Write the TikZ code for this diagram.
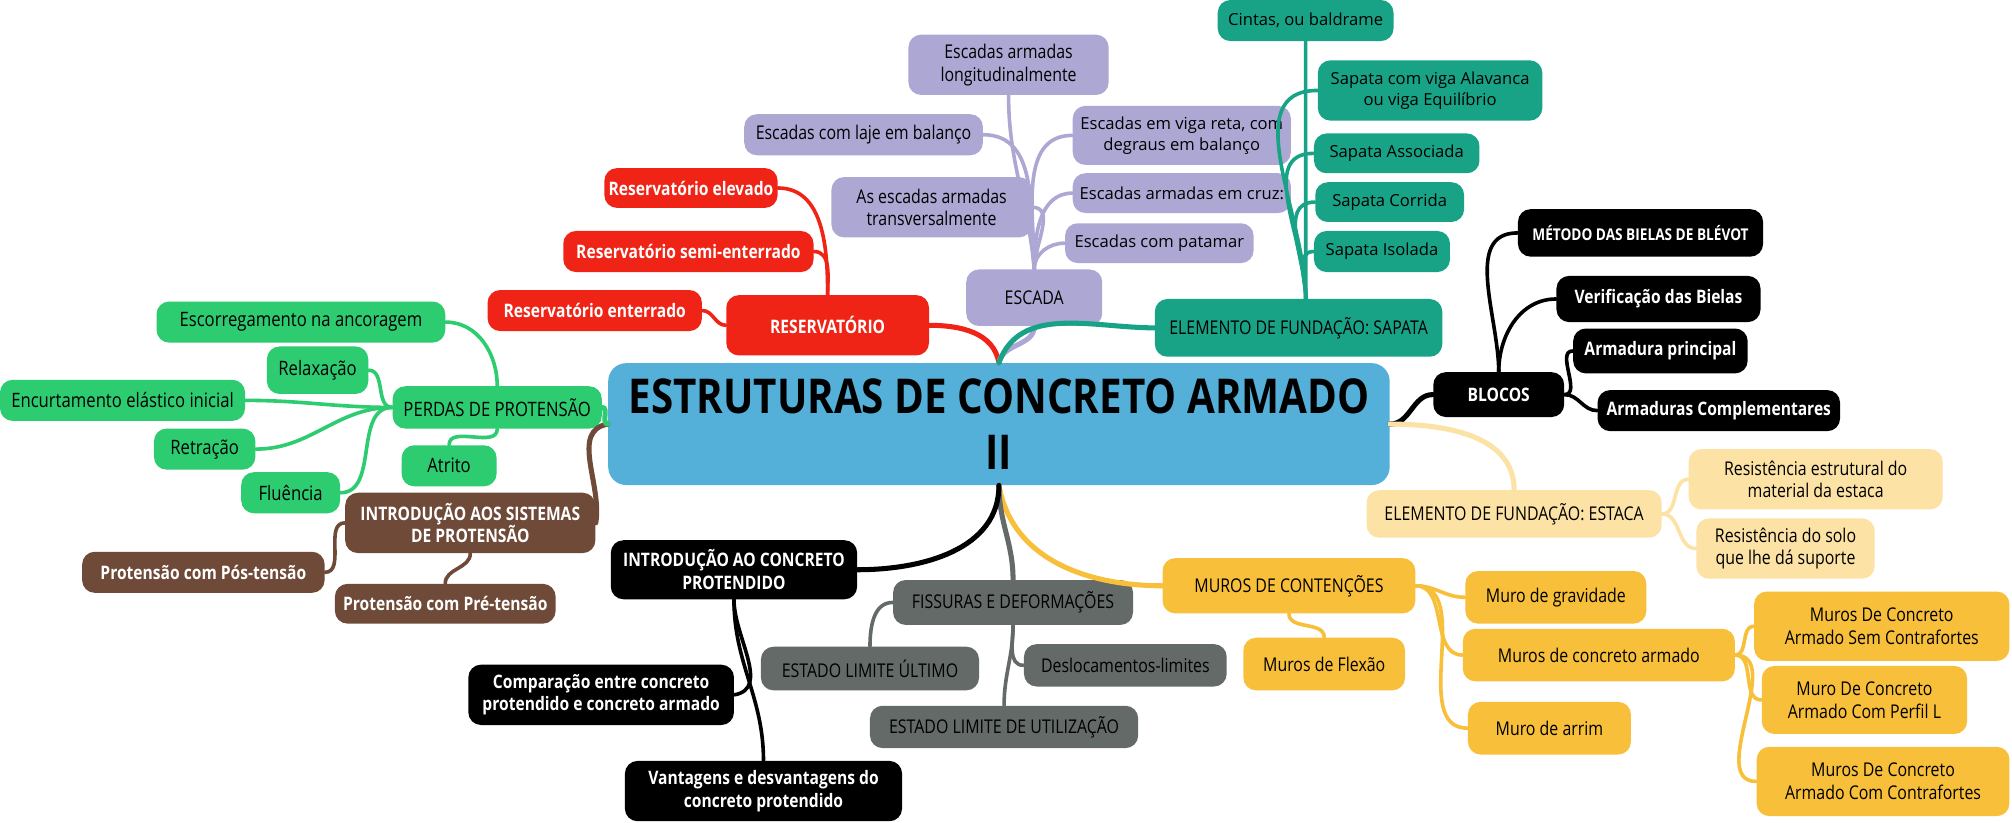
\documentclass[tikz,border=0pt]{standalone}
\usepackage{fontspec}
\setmainfont{Open Sans}
\newfontfamily\condf{Open Sans}[FakeStretch=0.84]
\usetikzlibrary{arrows.meta}

\definecolor{topicblue}{RGB}{84,176,216}
\definecolor{resred}{RGB}{240,36,22}
\definecolor{escpurple}{RGB}{173,167,212}
\definecolor{sapteal}{RGB}{24,163,135}
\definecolor{estyellow}{RGB}{252,226,164}
\definecolor{muryellow}{RGB}{248,191,58}
\definecolor{fisgray}{RGB}{99,106,104}
\definecolor{probrown}{RGB}{111,74,56}
\definecolor{pergreen}{RGB}{46,204,113}

\begin{document}
\begin{tikzpicture}[x=0.025cm,y=-0.025cm,
    box/.style={rounded corners=7pt,inner sep=0pt,align=center,font=\condf\fontsize{10.5}{12.5}\selectfont},
    sz/.style 2 args={minimum width=#1*0.025cm,minimum height=#2*0.025cm},
    lite/.style={box,fill=#1,text=black},
    dark/.style={box,fill=#1,text=white,font=\condf\bfseries\fontsize{10.3}{12.5}\selectfont},
    wide/.style={font=\fontsize{9.2}{11.5}\selectfont},
    big/.style={font=\condf\fontsize{11}{13}\selectfont},
    branch/.style={draw=#1,line width=2.8pt,line cap=round},
    twig/.style={draw=#1,line width=2pt,line cap=round}]

  \fill[white] (0,0) rectangle (1568,641);

  % centre
  \node[box,fill=topicblue,sz={609}{95},rounded corners=10pt,
        font=\condf\bfseries\fontsize{26.6}{31}\selectfont] (root) at (778.5,330.5)
        {ESTRUTURAS DE CONCRETO ARMADO\\II};

  % reservatorio
  \node[dark=resred,sz={158}{47}] (reserv) at (645,253.5) {RESERVATÓRIO};
  \node[dark=resred,sz={167}{32}] (enterr) at (463.5,242) {Reservatório enterrado};
  \node[dark=resred,sz={195}{32}] (semient) at (536.5,196) {Reservatório semi-enterrado};
  \node[dark=resred,sz={135}{31}] (elevado) at (538.5,146.5) {Reservatório elevado};

  % escada
  \node[lite=escpurple,sz={106}{44}] (escada) at (806,232) {ESCADA};
  \node[lite=escpurple,wide,sz={147}{31}] (patamar) at (903.5,189.5) {Escadas com patamar};
  \node[lite=escpurple,wide,sz={170}{31}] (cruz) at (921,150.5) {Escadas armadas em cruz:};
  \node[lite=escpurple,wide,sz={170}{46}] (vigareta) at (921,105.5) {Escadas em viga reta, com\\degraus em balanço};
  \node[lite=escpurple,sz={156}{47}] (transv) at (726,161.5) {As escadas armadas\\transversalmente};
  \node[lite=escpurple,sz={186}{32}] (lajebal) at (673,105) {Escadas com laje em balanço};
  \node[lite=escpurple,sz={156}{47}] (longit) at (786,50.5) {Escadas armadas\\longitudinalmente};

  % sapata
  \node[lite=sapteal,sz={224}{45}] (sapata) at (1012,255.5) {ELEMENTO DE FUNDAÇÃO: SAPATA};
  \node[lite=sapteal,wide,sz={106}{32}] (isolada) at (1077,196) {Sapata Isolada};
  \node[lite=sapteal,wide,sz={116}{31}] (corrida) at (1083,157.5) {Sapata Corrida};
  \node[lite=sapteal,wide,sz={129}{31}] (associada) at (1088.5,119.5) {Sapata Associada};
  \node[lite=sapteal,wide,sz={175}{47}] (alavanca) at (1114.5,70.5) {Sapata com viga Alavanca\\ou viga Equilíbrio};
  \node[lite=sapteal,wide,sz={137}{32}] (cintas) at (1017.5,16) {Cintas, ou baldrame};

  % blocos
  \node[dark=black,sz={102}{35}] (blocos) at (1168,307.5) {BLOCOS};
  \node[dark=black,sz={191}{37},font=\condf\bfseries\fontsize{9}{11}\selectfont] (blevot) at (1278.5,181.5) {MÉTODO DAS BIELAS DE BLÉVOT};
  \node[dark=black,sz={159}{36}] (bielas) at (1292.5,233) {Verificação das Bielas};
  \node[dark=black,sz={136}{35}] (armprinc) at (1294,273.5) {Armadura principal};
  \node[dark=black,sz={189}{32}] (armcompl) at (1339.5,320) {Armaduras Complementares};

  % estaca
  \node[lite=estyellow,sz={230}{37}] (estaca) at (1180,400.5) {ELEMENTO DE FUNDAÇÃO: ESTACA};
  \node[lite=estyellow,sz={198}{47}] (resestr) at (1415,373.5) {Resistência estrutural do\\material da estaca};
  \node[lite=estyellow,sz={139}{47}] (ressolo) at (1391.5,427.5) {Resistência do solo\\que lhe dá suporte};

  % muros
  \node[lite=muryellow,sz={197}{43}] (muros) at (1004.5,456.5) {MUROS DE CONTENÇÕES};
  \node[lite=muryellow,sz={126}{41}] (flexao) at (1032,517.5) {Muros de Flexão};
  \node[lite=muryellow,sz={141}{41}] (gravid) at (1212.5,465.5) {Muro de gravidade};
  \node[lite=muryellow,sz={212}{41}] (concarm) at (1246,510.5) {Muros de concreto armado};
  \node[lite=muryellow,sz={127}{41}] (arrimo) at (1207.5,567.5) {Muro de arrim};
  \node[lite=muryellow,sz={199}{54}] (semcontra) at (1466.5,488) {Muros De Concreto\\Armado Sem Contrafortes};
  \node[lite=muryellow,sz={160}{53}] (perfill) at (1453,545.5) {Muro De Concreto\\Armado Com Perfil L};
  \node[lite=muryellow,sz={197}{54}] (comcontra) at (1467.5,609) {Muros De Concreto\\Armado Com Contrafortes};

  % fissuras
  \node[lite=fisgray,sz={187}{35}] (fissuras) at (789.5,469.5) {FISSURAS E DEFORMAÇÕES};
  \node[lite=fisgray,sz={170}{34}] (elu) at (678,521) {ESTADO LIMITE ÚLTIMO};
  \node[lite=fisgray,sz={158}{33}] (desloc) at (877,518.5) {Deslocamentos-limites};
  \node[lite=fisgray,sz={209}{33}] (els) at (782.5,566.5) {ESTADO LIMITE DE UTILIZAÇÃO};

  % concreto protendido
  \node[dark=black,sz={192}{46}] (introcp) at (572,444) {INTRODUÇÃO AO CONCRETO\\PROTENDIDO};
  \node[dark=black,sz={207}{47}] (compar) at (468.5,541.5) {Comparação entre concreto\\protendido e concreto armado};
  \node[dark=black,sz={216}{47}] (vantag) at (595,616.5) {Vantagens e desvantagens do\\concreto protendido};

  % sistemas de protensao
  \node[dark=probrown,sz={195}{47}] (introsis) at (366.5,407.5) {INTRODUÇÃO AOS SISTEMAS\\DE PROTENSÃO};
  \node[dark=probrown,sz={189}{32}] (postens) at (158.5,446) {Protensão com Pós-tensão};
  \node[dark=probrown,sz={172}{31}] (pretens) at (347,470.5) {Protensão com Pré-tensão};

  % perdas
  \node[lite=pergreen,big,sz={163}{33}] (perdas) at (387.5,317.5) {PERDAS DE PROTENSÃO};
  \node[lite=pergreen,big,sz={225}{32}] (escorreg) at (234.5,251) {Escorregamento na ancoragem};
  \node[lite=pergreen,big,sz={79}{37}] (relax) at (247.5,288.5) {Relaxação};
  \node[lite=pergreen,big,sz={191}{32}] (encurt) at (95.5,312) {Encurtamento elástico inicial};
  \node[lite=pergreen,big,sz={79}{32}] (retracao) at (159.5,350) {Retração};
  \node[lite=pergreen,big,sz={74}{32}] (atrito) at (350,363) {Atrito};
  \node[lite=pergreen,big,sz={77}{32}] (fluencia) at (226.5,384) {Fluência};

  % main branches
  \draw[branch=resred] (reserv.east) to[out=0,in=100] (root.north);
  \draw[branch=escpurple] (escada.south) to[out=-90,in=80] (root.north);
  \draw[branch=sapteal] (sapata.west) to[out=180,in=70] (root.north);
  \draw[branch=black] (blocos.west) to[out=180,in=0] (root.east);
  \draw[branch=estyellow] (root.east) to[out=0,in=90] (estaca.north);
  \draw[branch=muryellow] (root.south) to[out=-80,in=180] (muros.west);
  \draw[branch=fisgray] (root.south) to[out=-90,in=90] (fissuras.north);
  \draw[branch=black] (root.south) to[out=-90,in=0] (introcp.east);
  \draw[branch=probrown] (introsis.east) to[out=80,in=190] (root.west);
  \draw[branch=pergreen] (perdas.east) to[out=0,in=180] (root.west);

  % reservatorio
  \draw[twig=resred] (reserv.west) to[out=180,in=0] (enterr.east);
  \draw[twig=resred] (reserv.north) to[out=90,in=0] (semient.east);
  \draw[twig=resred] (reserv.north) to[out=90,in=0] (elevado.east);

  % escada
  \draw[twig=escpurple] (escada.north) to[out=90,in=180] (patamar.west);
  \draw[twig=escpurple] (escada.north) to[out=90,in=180] (cruz.west);
  \draw[twig=escpurple] (escada.north) to[out=90,in=180] (vigareta.west);
  \draw[twig=escpurple] (escada.north) to[out=90,in=0] (transv.east);
  \draw[twig=escpurple] (escada.north) to[out=95,in=0] (lajebal.east);
  \draw[twig=escpurple] (escada.north) to[out=95,in=-90] (longit.south);

  % sapata
  \draw[twig=sapteal] ([xshift=4pt]sapata.north) to[out=90,in=180] (isolada.west);
  \draw[twig=sapteal] ([xshift=4pt]sapata.north) to[out=90,in=180] (corrida.west);
  \draw[twig=sapteal] ([xshift=4pt]sapata.north) to[out=90,in=180] (associada.west);
  \draw[twig=sapteal] ([xshift=4pt]sapata.north) to[out=90,in=180] (alavanca.west);
  \draw[twig=sapteal] ([xshift=4pt]sapata.north) to[out=90,in=-90] (cintas.south);

  % blocos
  \draw[twig=black] (blocos.north) to[out=90,in=180] (blevot.west);
  \draw[twig=black] (blocos.north) to[out=90,in=180] (bielas.west);
  \draw[twig=black] (blocos.east) to[out=0,in=180] (armprinc.west);
  \draw[twig=black] (blocos.east) to[out=0,in=180] (armcompl.west);

  % estaca
  \draw[twig=estyellow] (estaca.east) to[out=0,in=180] (resestr.west);
  \draw[twig=estyellow] (estaca.east) to[out=0,in=180] (ressolo.west);

  % muros
  \draw[twig=muryellow] (muros.south) to[out=-90,in=90] (flexao.north);
  \draw[twig=muryellow] (muros.east) to[out=0,in=180] (gravid.west);
  \draw[twig=muryellow] (muros.east) to[out=0,in=180] (concarm.west);
  \draw[twig=muryellow] (muros.east) to[out=0,in=180] (arrimo.west);
  \draw[twig=muryellow] (concarm.east) to[out=0,in=180] (semcontra.west);
  \draw[twig=muryellow] (concarm.east) to[out=0,in=180] (perfill.west);
  \draw[twig=muryellow] (concarm.east) to[out=0,in=180] (comcontra.west);

  % fissuras
  \draw[twig=fisgray] (fissuras.west) to[out=180,in=90] (elu.north);
  \draw[twig=fisgray] (fissuras.south) to[out=-90,in=180] (desloc.west);
  \draw[twig=fisgray] (fissuras.south) to[out=-90,in=90] (els.north);

  % concreto protendido
  \draw[twig=black] (introcp.south) to[out=-90,in=10] (compar.east);
  \draw[twig=black] (introcp.south) to[out=-90,in=90] (vantag.north);

  % sistemas de protensao
  \draw[twig=probrown] (introsis.west) to[out=180,in=0] (postens.east);
  \draw[twig=probrown] (introsis.south) to[out=-90,in=90] (pretens.north);

  % perdas
  \draw[twig=pergreen] (perdas.north) to[out=90,in=0] (escorreg.east);
  \draw[twig=pergreen] (perdas.west) to[out=180,in=0] (relax.east);
  \draw[twig=pergreen] (perdas.west) to[out=180,in=0] (encurt.east);
  \draw[twig=pergreen] (perdas.west) to[out=180,in=0] (retracao.east);
  \draw[twig=pergreen] (perdas.west) to[out=180,in=0] (fluencia.east);
  \draw[twig=pergreen] (perdas.south) to[out=-90,in=90] (atrito.north);
\end{tikzpicture}
\end{document}
